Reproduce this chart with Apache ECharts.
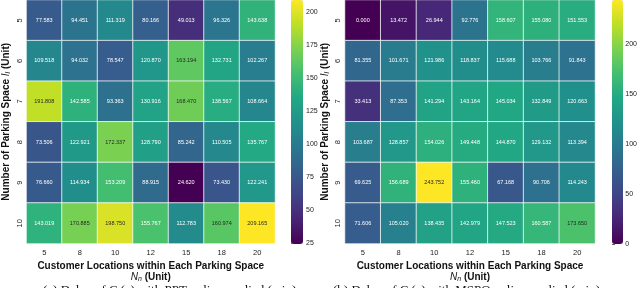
<!DOCTYPE html>
<html>
<head>
<meta charset="utf-8">
<script src="https://cdn.jsdelivr.net/npm/echarts@6/dist/echarts.min.js"></script>
<style>html,body{margin:0;padding:0;background:#fff;}#c{width:640px;height:288px;}</style>
</head>
<body>
<div id="c"></div>
<script>
const xCats = ['5', '8', '10', '12', '15', '18', '20'];
const yCats = ['5', '6', '7', '8', '9', '10'];
const leftValues = [
  [77.583, 94.451, 111.319, 80.166, 49.013, 96.326, 143.638],
  [109.518, 94.032, 78.547, 120.870, 163.194, 132.731, 102.267],
  [191.808, 142.585, 93.363, 130.916, 168.470, 138.567, 108.664],
  [73.506, 122.921, 172.337, 128.790, 85.242, 110.505, 135.767],
  [76.660, 114.934, 153.209, 88.915, 24.620, 73.430, 122.241],
  [143.019, 170.885, 198.750, 155.767, 112.783, 160.974, 209.165]
];
const rightValues = [
  [0.000, 13.472, 26.944, 92.776, 158.607, 155.080, 151.553],
  [81.355, 101.671, 121.986, 118.837, 115.688, 103.766, 91.843],
  [33.413, 87.353, 141.294, 143.164, 145.034, 132.849, 120.663],
  [103.687, 128.857, 154.026, 149.448, 144.870, 129.132, 113.394],
  [69.625, 156.689, 243.752, 155.460, 67.168, 90.706, 114.243],
  [71.606, 105.020, 138.435, 142.979, 147.523, 160.587, 173.650]
];
const leftTicks = [25, 50, 75, 100, 125, 150, 175, 200];
const rightTicks = [0, 50, 100, 150, 200];
const captionLeft = '(a) Delay of G\u2097(a) with PPT policy applied (min)';
const captionRight = '(b) Delay of G\u2097(a) with MSPO policy applied (min)';

const viridis = ['#440154','#482475','#414487','#355f8d','#2a788e','#21918c','#22a884','#44bf70','#7ad151','#bddf26','#fde725'];

function range(vals) {
  const flat = vals.flat();
  return [Math.min(...flat), Math.max(...flat)];
}
function buildData(vals) {
  const [mn, mx] = range(vals);
  const out = [];
  vals.forEach((row, yi) => row.forEach((v, xi) => {
    const t = (v - mn) / (mx - mn);
    out.push({ value: [xi, yi, v], label: { color: t > 0.7115 ? '#262626' : '#ffffff' } });
  }));
  return out;
}
const lr = range(leftValues), rr = range(rightValues);

const xName = '{b|Customer Locations within Each Parking Space}\n{i|N}{s|n}{b| (Unit)}';
const yName = '{b|Number of Parking Space }{i|I}{s|l}{b| (Unit)}';
const nameRich = {
  b: { fontFamily: 'Liberation Sans', fontWeight: 'bold', fontSize: 10, color: '#111', lineHeight: 11 },
  i: { fontFamily: 'Liberation Sans', fontStyle: 'italic', fontSize: 10, color: '#111', lineHeight: 11 },
  s: { fontFamily: 'Liberation Sans', fontStyle: 'italic', fontSize: 7, color: '#111', lineHeight: 11, verticalAlign: 'bottom', padding: [3, 0, 0, 0] }
};

function xAxis(gi) {
  return {
    type: 'category', data: xCats, gridIndex: gi, position: 'bottom',
    axisLine: { show: false }, axisTick: { show: false }, splitLine: { show: false },
    axisLabel: { fontFamily: 'Liberation Sans', fontSize: 7.5, color: '#222', margin: 5 },
    name: xName, nameLocation: 'middle', nameGap: 12, nameTextStyle: { rich: nameRich }
  };
}
function yAxis(gi, gap) {
  return {
    type: 'category', data: yCats, gridIndex: gi, inverse: true,
    axisLine: { show: false }, axisTick: { show: false }, splitLine: { show: false },
    axisLabel: { fontFamily: 'Liberation Sans', fontSize: 7.5, color: '#222', rotate: 90, margin: 3 },
    name: yName, nameLocation: 'middle', nameGap: gap, nameRotate: 90, nameTextStyle: { rich: nameRich }
  };
}
function cbX(gi) {
  return { type: 'value', gridIndex: gi, show: false, min: 0, max: 1 };
}
function cbY(gi, r, ticks) {
  return {
    type: 'value', gridIndex: gi, position: 'right', min: r[0], max: r[1],
    axisLine: { show: false }, splitLine: { show: false },
    axisTick: { show: true, length: 3, lineStyle: { color: '#333', width: 0.8 }, customValues: ticks },
    axisLabel: { fontFamily: 'Liberation Sans', fontSize: 7, color: '#222', margin: 3, customValues: ticks }
  };
}
function heat(xi, yi, vals) {
  return {
    type: 'heatmap', xAxisIndex: xi, yAxisIndex: yi, data: buildData(vals),
    itemStyle: { borderColor: 'rgba(255,255,255,0.75)', borderWidth: 1 },
    label: { show: true, fontFamily: 'Liberation Sans', fontSize: 5.5, formatter: p => p.value[2].toFixed(3) },
    emphasis: { disabled: true }
  };
}

const chart = echarts.init(document.getElementById('c'), null, { renderer: 'canvas' });
chart.setOption({
  animation: false,
  backgroundColor: '#fff',
  grid: [
    { left: 25, top: 0, width: 250, height: 244 },
    { left: 345, top: 0, width: 250, height: 244 },
    { left: 291, top: 0, width: 12, height: 244 },
    { left: 612, top: 0, width: 11, height: 244 }
  ],
  xAxis: [xAxis(0), xAxis(1), cbX(2), cbX(3)],
  yAxis: [yAxis(0, 15), yAxis(1, 14), cbY(2, lr, leftTicks), cbY(3, rr, rightTicks)],
  visualMap: [
    { type: 'continuous', seriesIndex: 0, min: lr[0], max: lr[1], inRange: { color: viridis },
      left: 291, top: 0, itemWidth: 12, itemHeight: 244, padding: 0, calculable: false, hoverLink: false, text: null },
    { type: 'continuous', seriesIndex: 1, min: rr[0], max: rr[1], inRange: { color: viridis },
      left: 612, top: 0, itemWidth: 11, itemHeight: 244, padding: 0, calculable: false, hoverLink: false, text: null }
  ],
  graphic: [
    { type: 'text', left: 43, top: 284, style: { text: captionLeft, fontFamily: 'Liberation Serif', fontSize: 13, fill: '#111' } },
    { type: 'text', left: 333, top: 284, style: { text: captionRight, fontFamily: 'Liberation Serif', fontSize: 13, fill: '#111' } }
  ],
  series: [heat(0, 0, leftValues), heat(1, 1, rightValues)]
});
</script>
</body>
</html>
